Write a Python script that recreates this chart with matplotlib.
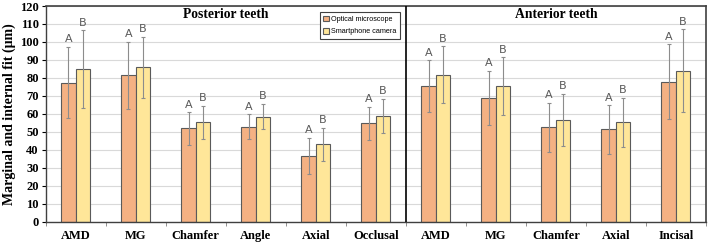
import matplotlib.pyplot as plt
import numpy as np

categories = ['AMD', 'MG', 'Chamfer', 'Angle', 'Axial', 'Occlusal',
              'AMD', 'MG', 'Chamfer', 'Axial', 'Incisal']
optical_mean = [77.4, 81.4, 51.9, 52.8, 36.6, 54.7, 75.4, 69.0, 52.5, 51.3, 77.8]
optical_sd = [19.7, 18.5, 9.0, 7.0, 10.1, 9.3, 14.4, 15.0, 13.8, 13.5, 20.8]
phone_mean = [84.7, 85.8, 55.4, 58.5, 43.0, 58.9, 81.7, 75.5, 56.6, 55.2, 84.0]
phone_sd = [21.7, 16.9, 9.2, 7.2, 9.3, 9.5, 15.9, 16.0, 14.6, 13.9, 23.1]

orange = '#F4B183'
yellow = '#FFE699'
serif = 'Liberation Serif'

fig = plt.figure(figsize=(7.08, 2.43), dpi=100)
ax = fig.add_axes([0.0645, 0.0877, 0.9325, 0.8875])

x = np.arange(len(categories))
w = 0.24
ax.bar(x - w / 2, optical_mean, w, color=orange, edgecolor='#5a5a5a', linewidth=0.8,
       label='Optical microscope', zorder=2)
ax.bar(x + w / 2, phone_mean, w, color=yellow, edgecolor='#5a5a5a', linewidth=0.8,
       label='Smartphone camera', zorder=2)
ax.errorbar(x - w / 2, optical_mean, yerr=optical_sd, fmt='none', ecolor='#8c8c8c',
            elinewidth=0.8, capsize=1.2, capthick=0.8, zorder=3)
ax.errorbar(x + w / 2, phone_mean, yerr=phone_sd, fmt='none', ecolor='#8c8c8c',
            elinewidth=0.8, capsize=1.2, capthick=0.8, zorder=3)

for xi, m, s in zip(x, optical_mean, optical_sd):
    ax.text(xi - w / 2, m + s + 1.5, 'A', ha='center', va='bottom', fontsize=8,
            color='#595959')
for xi, m, s in zip(x, phone_mean, phone_sd):
    ax.text(xi + w / 2, m + s + 1.5, 'B', ha='center', va='bottom', fontsize=8,
            color='#595959')

ax.set_xlim(-0.5, 10.5)
ax.set_ylim(0, 120)
ax.set_yticks(range(0, 121, 10))
ax.grid(axis='y', color='#d9d9d9', linewidth=0.8, zorder=0)
ax.set_axisbelow(True)

ax.set_xticks(x)
ax.set_xticklabels(categories, fontfamily=serif, fontweight='bold', fontsize=9)
ax.tick_params(axis='x', length=0, pad=6)
ax.set_xticks(np.arange(-0.5, 10.6, 1), minor=True)
ax.tick_params(axis='x', which='minor', length=3, color='#7f7f7f')
ax.tick_params(axis='y', length=3, labelsize=9, pad=2)
for lbl in ax.get_yticklabels():
    lbl.set_fontfamily(serif)
    lbl.set_fontweight('bold')

ax.set_ylabel('Marginal and internal fit (μm)', fontfamily=serif, fontweight='bold',
              fontsize=10, labelpad=3)

for side in ['top', 'right']:
    ax.spines[side].set_color('#404040')
    ax.spines[side].set_linewidth(1.2)
for side in ['left', 'bottom']:
    ax.spines[side].set_color('#404040')
    ax.spines[side].set_linewidth(1.0)

ax.axvline(5.5, color='black', linewidth=1.2, zorder=4)

ax.text(2.5, 115.5, 'Posterior teeth', ha='center', va='center', fontfamily=serif,
        fontweight='bold', fontsize=9.8)
ax.text(8.0, 115.5, 'Anterior teeth', ha='center', va='center', fontfamily=serif,
        fontweight='bold', fontsize=9.8)

leg = ax.legend(loc='upper right', bbox_to_anchor=(0.537, 0.972),
                prop={'family': 'Liberation Sans', 'size': 5.2},
                frameon=True, fancybox=False, edgecolor='#404040', framealpha=1,
                handlelength=0.8, handleheight=0.8, handletextpad=0.3,
                borderpad=0.5, labelspacing=0.7, borderaxespad=0)
leg.get_frame().set_linewidth(0.8)

fig.savefig('out.png', dpi=100, facecolor='white')
